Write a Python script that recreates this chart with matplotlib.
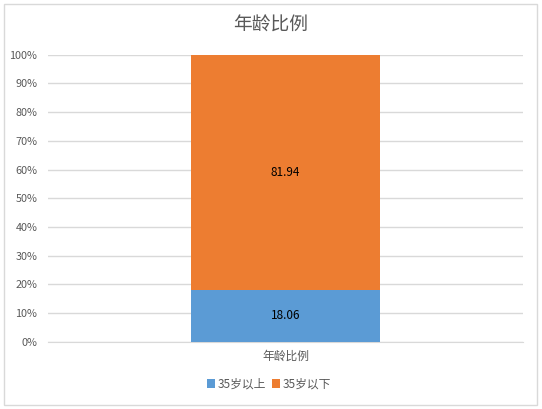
import matplotlib
matplotlib.use("Agg")
import matplotlib.pyplot as plt
from matplotlib.patches import Rectangle
from matplotlib.ticker import FuncFormatter

plt.rcParams['font.family'] = ['Noto Sans CJK SC', 'DejaVu Sans']

categories = ["年龄比例"]
series_names = ["35岁以上", "35岁以下"]
above35 = [18.06]
below35 = [81.94]
colors = ["#5B9BD5", "#ED7D31"]
yticks = [0, 10, 20, 30, 40, 50, 60, 70, 80, 90, 100]

txt = "#595959"
fig = plt.figure(figsize=(5.42, 4.09), dpi=100)
fig.patches.append(Rectangle((3.5/542, 1-404.5/409), 533.5/542, 401/409,
                             transform=fig.transFigure, fill=False,
                             edgecolor="#D9D9D9", linewidth=1.0))
ax = fig.add_axes([48.3/542, 1-341.7/409, 474.4/542, 287/409])

x = list(range(len(categories)))
b1 = ax.bar(x, above35, width=0.4, color=colors[0], label=series_names[0], zorder=3)
b2 = ax.bar(x, below35, width=0.4, bottom=above35, color=colors[1], label=series_names[1], zorder=3)
for bars, vals in ((b1, above35), (b2, below35)):
    for rect, v in zip(bars, vals):
        ax.text(rect.get_x() + rect.get_width()/2, rect.get_y() + rect.get_height()/2,
                f"{v:.2f}", ha="center", va="center", fontsize=8.5, color="black", zorder=4)

ax.set_xlim(-0.5, 0.5)
ax.set_ylim(0, 100)
ax.set_yticks(yticks)
ax.yaxis.set_major_formatter(FuncFormatter(lambda v, p: f"{int(v)}%"))
ax.set_xticks(x)
ax.set_xticklabels(categories)
ax.grid(axis="y", color="#D9D9D9", linewidth=1.0, zorder=0)
for s in ["top", "right", "left"]:
    ax.spines[s].set_visible(False)
ax.spines["bottom"].set_color("#D9D9D9")
ax.tick_params(axis="y", length=0, pad=8, labelsize=7.8, labelcolor=txt)
ax.tick_params(axis="x", length=0, pad=6, labelsize=8.5, labelcolor=txt)

fig.text(0.5, 1-25/409, "年龄比例", ha="center", va="center", fontsize=13.5,
         color=txt, fontweight="light")
fig.legend(loc="center", bbox_to_anchor=(269/542, 1-384/409), ncol=2, frameon=False,
           fontsize=8.5, labelcolor=txt, handlelength=0.7, handleheight=0.7,
           handletextpad=0.2, columnspacing=0.5)

fig.savefig("out.png", dpi=100)
